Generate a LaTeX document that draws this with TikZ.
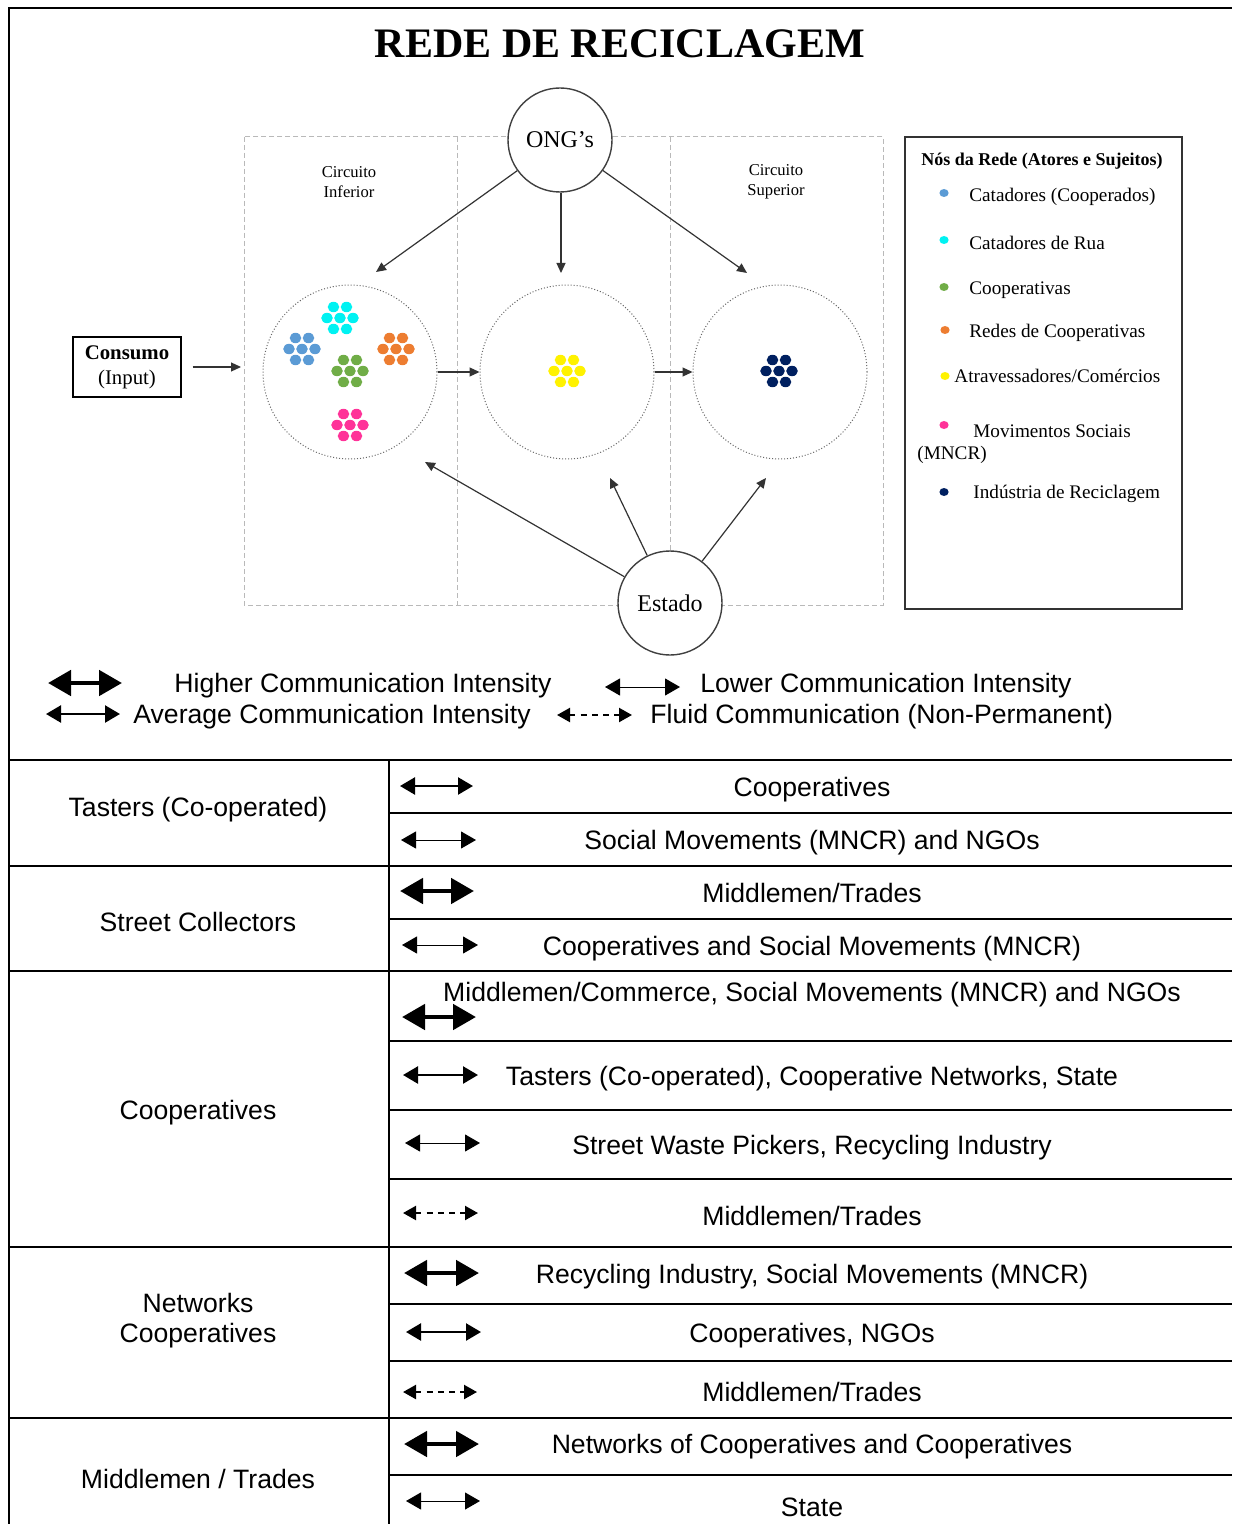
\documentclass[tikz,border=0pt]{standalone}
\usepackage{fontspec}
\setmainfont{Liberation Serif}
\newfontfamily\arialf{Liberation Sans}
\usetikzlibrary{arrows.meta}
\definecolor{cblue}{HTML}{5B9BD5}
\definecolor{ccyan}{HTML}{00F2F2}
\definecolor{cgreen}{HTML}{70AD47}
\definecolor{corange}{HTML}{ED7D31}
\definecolor{cyellow}{HTML}{FFF200}
\definecolor{cpink}{HTML}{FF3399}
\definecolor{cnavy}{HTML}{002060}
\newcommand\mycluster[3]{%
  \foreach \dx/\dy in {-6.5/-11,6.5/-11,-13/0,0/0,13/0,-6.5/11,6.5/11}
    \fill[#3] (#1+\dx,#2+\dy) ellipse [x radius=2.9pt, y radius=2.6pt];}
\begin{document}
\begin{tikzpicture}[x=0.5pt,y=-0.5pt,
  hi/.style={line width=2.4pt, arrows={Triangle[length=11.5pt,width=12.5pt]-Triangle[length=11.5pt,width=12.5pt]}},
  av/.style={line width=1.2pt, arrows={Triangle[length=7.5pt,width=8.5pt]-Triangle[length=7.5pt,width=8.5pt]}},
  lo/.style={line width=0.5pt, arrows={Triangle[length=7.5pt,width=8.5pt]-Triangle[length=7.5pt,width=8.5pt]}},
  fl/.style={line width=1.1pt, dash pattern=on 3pt off 2.6pt, arrows={Triangle[length=6.5pt,width=7pt]-Triangle[length=6.5pt,width=7pt]}},
  arr/.style={draw=black!80, line width=0.6pt, -{Triangle[length=5pt,width=4.5pt]}},
  tt/.style={font=\arialf\fontsize{13.3}{15}\selectfont, inner sep=0pt, align=center, yshift=-1.5pt},
  frame/.style={line width=1.2pt},
  bigc/.style={circle, draw=black!60, densely dotted, line width=0.5pt, fill=white, minimum size=87pt, inner sep=0pt},
  actor/.style={circle, draw=black!75, line width=0.7pt, fill=white, minimum size=52pt, inner sep=0pt, font=\fontsize{12}{14}\selectfont},
  circtxt/.style={font=\fontsize{8.3}{10}\selectfont, align=center, inner sep=0pt},
  legtxt/.style={font=\fontsize{9.6}{11}\selectfont, inner sep=0pt, anchor=west, yshift=-1pt},
  ldot/.style={x radius=2.3pt, y radius=2pt}
]
\useasboundingbox (0,0) rectangle (1232,1524);
\fill[white] (0,0) rectangle (1232,1524);

% outer frame
\draw[frame] (9,1524) -- (9,8) -- (1232,8);
\node[font=\fontsize{21}{25}\selectfont\bfseries, inner sep=0pt] (title) at (620,44) {REDE DE RECICLAGEM};

% dashed circuit regions
\draw[gray!55, line width=0.5pt, dash pattern=on 2.5pt off 1.5pt] (244,137) rectangle (883,605);
\draw[gray!55, line width=0.5pt, dash pattern=on 2.5pt off 1.5pt] (457,137) -- (457,605);
\draw[gray!55, line width=0.5pt, dash pattern=on 2.5pt off 1.5pt] (670,137) -- (670,605);

\node[circtxt] (ci) at (349,182) {Circuito\\Inferior};
\node[circtxt] (cs) at (776,182) {Circuito\\Superior};

% big circles
\node[bigc] (cl) at (350,372) {};
\node[bigc] (cm) at (567,372) {};
\node[bigc] (cr) at (780,372) {};

\mycluster{340}{318}{ccyan}
\mycluster{302}{349}{cblue}
\mycluster{396}{349}{corange}
\mycluster{350}{371}{cgreen}
\mycluster{350}{425}{cpink}
\mycluster{567}{371}{cyellow}
\mycluster{779}{371}{cnavy}

% actors
\node[actor] (ong) at (560,140) {ONG’s};
\node[actor] (est) at (670,603) {Estado};

\coordinate (ongL) at (376,272);
\coordinate (ongM) at (561,273);
\coordinate (ongR) at (747,273);
\coordinate (estL) at (425,462);
\coordinate (estM) at (610,478);
\coordinate (estR) at (766,478);
\draw[arr] (ong) -- (ongL);
\draw[arr] (ong.south -| ongM) -- (ongM);
\draw[arr] (ong) -- (ongR);
\draw[arr] (est) -- (estL);
\draw[arr] (est) -- (estM);
\draw[arr] (est) -- (estR);
\draw[arr] (cl) -- (cm);
\draw[arr] (cm) -- (cr);

% consumo
\node[draw=black, line width=0.6pt, minimum width=54pt, minimum height=30pt, align=center, inner sep=0pt, font=\fontsize{10.4}{12.5}\selectfont] (cons) at (127,367) {\textbf{Consumo}\\(Input)};
\coordinate (consE) at (241,367);
\draw[arr] ([xshift=5.5pt]cons.east) -- (consE);

% legend box
\draw[black!80, line width=0.6pt] (905,137) rectangle (1182,609);
\node[font=\fontsize{9}{11}\selectfont\bfseries, inner sep=0pt] (lh) at (1042,161) {Nós da Rede (Atores e Sujeitos)};
\fill[cblue] (944,193) ellipse [ldot];
\node[legtxt] (l1) at (969,195) {Catadores (Cooperados)};
\fill[ccyan] (944,240) ellipse [ldot];
\node[legtxt] (l2) at (969,241) {Catadores de Rua};
\fill[cgreen] (944,287) ellipse [ldot];
\node[legtxt] (l3) at (969,288) {Cooperativas};
\fill[corange] (945,330) ellipse [ldot];
\node[legtxt] (l4) at (969,331) {Redes de Cooperativas};
\fill[cyellow] (945,376) ellipse [ldot];
\node[legtxt] (l5) at (954,374) {Atravessadores/Comércios};
\fill[cpink] (944,425) ellipse [ldot];
\node[legtxt] (l6) at (973,429) {Movimentos Sociais};
\node[legtxt] (l6b) at (917,453) {(MNCR)};
\fill[cnavy] (944,492) ellipse [ldot];
\node[legtxt] (l7) at (973,492) {Indústria de Reciclagem};

% communication legend
\draw[hi] (48,683) -- (122,683);
\node[tt, anchor=west] (lgh) at (174,683) {Higher Communication Intensity};
\draw[av] (46,714) -- (120,714);
\node[tt, anchor=west] (lga) at (133,714) {Average Communication Intensity};
\draw[lo] (605,687) -- (680,687);
\node[tt, anchor=west] (lgl) at (700,683) {Lower Communication Intensity};
\draw[fl] (557,715) -- (632,715);
\node[tt, anchor=west] (lgf) at (650,714) {Fluid Communication (Non-Permanent)};

% table
\foreach \yy in {760,866,971,1247,1418} \draw[frame] (9,\yy) -- (1232,\yy);
\foreach \yy in {813,919,1041,1110,1179,1304,1361,1475} \draw[frame] (389,\yy) -- (1232,\yy);
\draw[frame] (389,760) -- (389,1524);

\node[tt] (a1) at (198,807) {Tasters (Co-operated)};
\node[tt] (a2) at (198,919) {Street Collectors};
\node[tt] (a3) at (198,1110) {Cooperatives};
\node[tt] (a4) at (198,1318) {Networks\\Cooperatives};
\node[tt] (a5) at (198,1476) {Middlemen / Trades};

\draw[av] (400,786) -- (473,786);
\node[tt] (b1) at (812,787) {Cooperatives};
\draw[lo] (401,840) -- (476,840);
\node[tt] (b2) at (812,840) {Social Movements (MNCR) and NGOs};
\draw[hi] (400,891) -- (474,891);
\node[tt] (b3) at (812,890) {Middlemen/Trades};
\draw[lo] (402,945) -- (478,945);
\node[tt] (b4) at (812,946) {Cooperatives and Social Movements (MNCR)};
\draw[hi] (402,1017) -- (476,1017);
\node[tt] (b5) at (812,992) {Middlemen/Commerce, Social Movements (MNCR) and NGOs};
\draw[av] (403,1075) -- (478,1075);
\node[tt] (b6) at (812,1076) {Tasters (Co-operated), Cooperative Networks, State};
\draw[lo] (405,1143) -- (480,1143);
\node[tt] (b7) at (812,1145) {Street Waste Pickers, Recycling Industry};
\draw[fl] (403,1213) -- (478,1213);
\node[tt] (b8) at (812,1213) {Middlemen/Trades};
\draw[hi] (404,1273) -- (479,1273);
\node[tt] (b9) at (812,1274) {Recycling Industry, Social Movements (MNCR)};
\draw[av] (406,1332) -- (481,1332);
\node[tt] (b10) at (812,1333) {Cooperatives, NGOs};
\draw[fl] (403,1392) -- (477,1392);
\node[tt] (b11) at (812,1389) {Middlemen/Trades};
\draw[hi] (404,1444) -- (479,1444);
\node[tt] (b12) at (812,1444) {Networks of Cooperatives and Cooperatives};
\draw[lo] (406,1501) -- (480,1501);
\node[tt] (b13) at (812,1504) {State};
\end{tikzpicture}
\end{document}
